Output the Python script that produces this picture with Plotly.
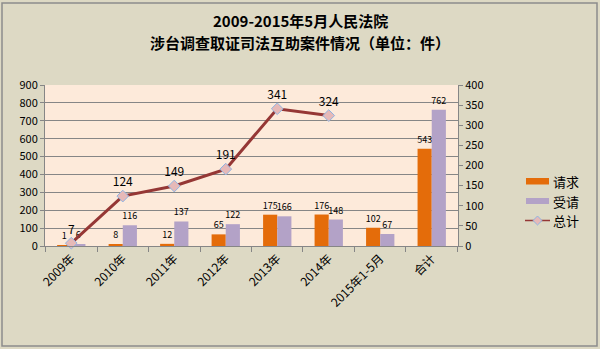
import plotly.graph_objects as go

# Case counts by period
categories = ["2009年", "2010年", "2011年", "2012年", "2013年", "2014年", "2015年1-5月", "合计"]
qingqiu = [1, 8, 12, 65, 175, 176, 102, 543]      # 请求
shouqing = [6, 116, 137, 122, 166, 148, 67, 762]  # 受请
zongji = [7, 124, 149, 191, 341, 324, None, None]  # 总计
title_lines = ["2009-2015年5月人民法院", "涉台调查取证司法互助案件情况（单位：件）"]

FONT = "Noto Sans CJK SC, DejaVu Sans, sans-serif"
AXIS_GRAY = "#868686"
ORANGE = "#E46C0A"
PURPLE = "#B3A2C7"
LINE_RED = "#953735"
MARK_FILL = "#E6B9B8"
MARK_EDGE = "#8EB4E3"

# plot-area geometry in pixels (used to place items in paper coordinates)
PL, PR, PT, PB = 45, 458, 85, 246


def px(x):
    return (x - PL) / (PR - PL)


def py(y):
    return (PB - y) / (PB - PT)


fig = go.Figure()

fig.add_trace(go.Bar(
    x=categories, y=qingqiu, name="请求",
    marker=dict(color=ORANGE, line=dict(width=0)),
    text=[str(v) for v in qingqiu], textposition="outside",
    textfont=dict(size=9, color="#000000", family=FONT),
    constraintext="none", cliponaxis=False, showlegend=False,
))
fig.add_trace(go.Bar(
    x=categories, y=shouqing, name="受请",
    marker=dict(color=PURPLE, line=dict(width=0)),
    text=[str(v) for v in shouqing], textposition="outside",
    textfont=dict(size=9, color="#000000", family=FONT),
    constraintext="none", cliponaxis=False, showlegend=False,
))
fig.add_trace(go.Scatter(
    x=categories, y=zongji, name="总计", yaxis="y2",
    mode="lines+markers+text",
    line=dict(color=LINE_RED, width=3),
    marker=dict(symbol="diamond", size=9, color=MARK_FILL,
                line=dict(color=MARK_EDGE, width=1)),
    text=[str(v) if v is not None else "" for v in zongji],
    textposition="top center",
    textfont=dict(size=12, color="#000000", family=FONT),
    cliponaxis=False, showlegend=False,
))


def diamond_path(cx, cy, r):
    pts = [(px(cx), py(cy - r)), (px(cx + r), py(cy)),
           (px(cx), py(cy + r)), (px(cx - r), py(cy))]
    return "M " + " L ".join("%f,%f" % p for p in pts) + " Z"


# outer frame and legend keys drawn as shapes next to text labels
shapes = [
    dict(type="rect", xref="paper", yref="paper",
         x0=px(2), x1=px(597), y0=py(346), y1=py(3),
         line=dict(color="#8C8C8C", width=1.5), fillcolor="rgba(0,0,0,0)",
         layer="below"),
    dict(type="rect", xref="paper", yref="paper",
         x0=px(526), x1=px(549), y0=py(184.5), y1=py(178),
         line=dict(width=0), fillcolor=ORANGE),
    dict(type="rect", xref="paper", yref="paper",
         x0=px(526), x1=px(549), y0=py(204), y1=py(198),
         line=dict(width=0), fillcolor=PURPLE),
    dict(type="line", xref="paper", yref="paper",
         x0=px(525), x1=px(550), y0=py(220.5), y1=py(220.5),
         line=dict(color=LINE_RED, width=1.5)),
    dict(type="path", xref="paper", yref="paper",
         path=diamond_path(537.5, 220.5, 4.5),
         fillcolor=MARK_FILL, line=dict(color=MARK_EDGE, width=1)),
]

annotations = [
    dict(text="<b>%s</b>" % title_lines[0], xref="paper", yref="paper",
         x=px(300), y=py(20), xanchor="center", yanchor="middle",
         showarrow=False, font=dict(size=15, family=FONT, color="#000000")),
    dict(text="<b>%s</b>" % title_lines[1], xref="paper", yref="paper",
         x=px(300), y=py(43), xanchor="center", yanchor="middle",
         showarrow=False, font=dict(size=15, family=FONT, color="#000000")),
]
for label, ycen in zip(["请求", "受请", "总计"], [181, 201, 220]):
    annotations.append(dict(
        text=label, xref="paper", yref="paper", x=px(551), y=py(ycen),
        xanchor="left", yanchor="middle", showarrow=False,
        font=dict(size=13, family=FONT, color="#000000")))

fig.update_layout(
    width=600, height=349,
    margin=dict(l=PL, r=600 - PR, t=PT, b=349 - PB),
    paper_bgcolor="#DDD9C4",
    plot_bgcolor="#FDEADA",
    font=dict(family=FONT, size=11, color="#000000"),
    barmode="group", bargap=0.45, bargroupgap=0,
    showlegend=False,
    xaxis=dict(
        type="category", tickangle=-45, tickson="boundaries",
        ticks="outside", ticklen=5, tickcolor=AXIS_GRAY,
        showline=True, linecolor=AXIS_GRAY, linewidth=1,
        showgrid=False, tickfont=dict(size=12),
    ),
    yaxis=dict(
        range=[0, 900], dtick=100, ticks="outside", ticklen=4,
        tickcolor=AXIS_GRAY, showline=True, linecolor=AXIS_GRAY,
        showgrid=True, gridcolor=AXIS_GRAY, gridwidth=1,
        zeroline=False, tickfont=dict(size=11),
    ),
    yaxis2=dict(
        range=[0, 400], dtick=50, overlaying="y", side="right",
        ticks="outside", ticklen=4, tickcolor=AXIS_GRAY,
        showline=True, linecolor=AXIS_GRAY, showgrid=False,
        zeroline=False, tickfont=dict(size=11),
    ),
    shapes=shapes,
    annotations=annotations,
)

fig.write_html("out.html")
